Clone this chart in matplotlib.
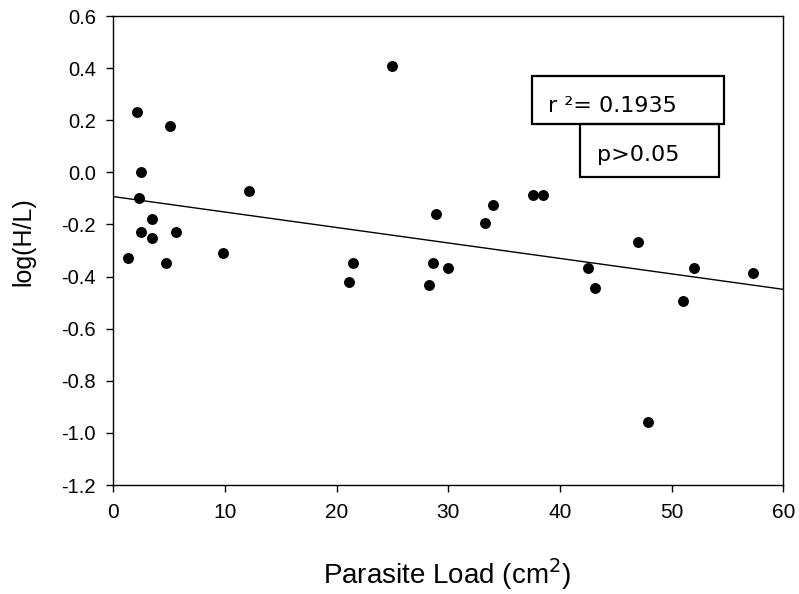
import matplotlib
matplotlib.use("Agg")
import matplotlib.pyplot as plt
from matplotlib.patches import Rectangle

plt.rcParams["font.family"] = ["Liberation Sans", "DejaVu Sans"]

# parasite load (cm^2) vs log(H/L)
parasite_load = [25.0, 2.1, 5.1, 2.5, 2.3, 12.15, 3.5, 2.5, 5.6, 3.5, 1.3, 4.7,
                 9.85, 21.5, 21.1, 28.9, 34.0, 33.3, 37.6, 38.5, 28.6, 30.0,
                 28.3, 42.5, 43.1, 47.0, 52.0, 57.3, 51.0, 47.9]
log_hl = [0.41, 0.23, 0.177, 0.0, -0.10, -0.07, -0.18, -0.229, -0.229, -0.252,
          -0.327, -0.347, -0.309, -0.347, -0.42, -0.161, -0.125, -0.193, -0.087,
          -0.087, -0.347, -0.366, -0.431, -0.366, -0.443, -0.267, -0.366, -0.387,
          -0.495, -0.958]

# regression line endpoints
fit_x = [0, 60]
fit_y = [-0.093, -0.449]

x_ticks = [0, 10, 20, 30, 40, 50, 60]
y_ticks = [0.6, 0.4, 0.2, 0.0, -0.2, -0.4, -0.6, -0.8, -1.0, -1.2]
y_tick_labels = ["0.6", "0.4", "0.2", "0.0", "-0.2", "-0.4", "-0.6", "-0.8", "-1.0", "-1.2"]

fig = plt.figure(figsize=(7.99, 5.94), dpi=100)
ax = fig.add_axes([0.1418, 0.1835, 0.8386, 0.7895])

ax.scatter(parasite_load, log_hl, s=62, color="black", zorder=3, linewidths=0)
ax.plot(fit_x, fit_y, color="black", lw=1.0)

ax.set_xlim(0, 60)
ax.set_ylim(-1.2, 0.6)
ax.set_xticks(x_ticks)
ax.set_yticks(y_ticks)
ax.set_yticklabels(y_tick_labels)
ax.tick_params(direction="out", length=5, width=1, top=False, right=False)
ax.tick_params(axis="x", labelsize=15, pad=8)
ax.tick_params(axis="y", labelsize=14.5, pad=7.5)
for spine in ax.spines.values():
    spine.set_linewidth(1.0)

ax.set_ylabel("log(H/L)", fontsize=18)
ax.yaxis.set_label_coords(-0.117, 0.52)
ax.set_xlabel("Parasite Load (cm$^2$)", fontsize=20)
ax.xaxis.set_label_coords(0.498, -0.151)

# statistics boxes
ax.add_patch(Rectangle((0.6245, 0.7697), 0.287, 0.103, transform=ax.transAxes,
                       fill=False, lw=1.6, edgecolor="black", zorder=4))
ax.add_patch(Rectangle((0.6966, 0.6574), 0.2074, 0.1123, transform=ax.transAxes,
                       fill=False, lw=1.6, edgecolor="black", zorder=4))
ax.text(0.649, 0.796, "r \u00b2= 0.1935", transform=ax.transAxes, fontsize=16,
        family="DejaVu Sans", va="baseline", ha="left")
ax.text(0.7215, 0.6915, "p>0.05", transform=ax.transAxes, fontsize=16,
        family="DejaVu Sans", va="baseline", ha="left")

fig.savefig("out.png", dpi=100)
